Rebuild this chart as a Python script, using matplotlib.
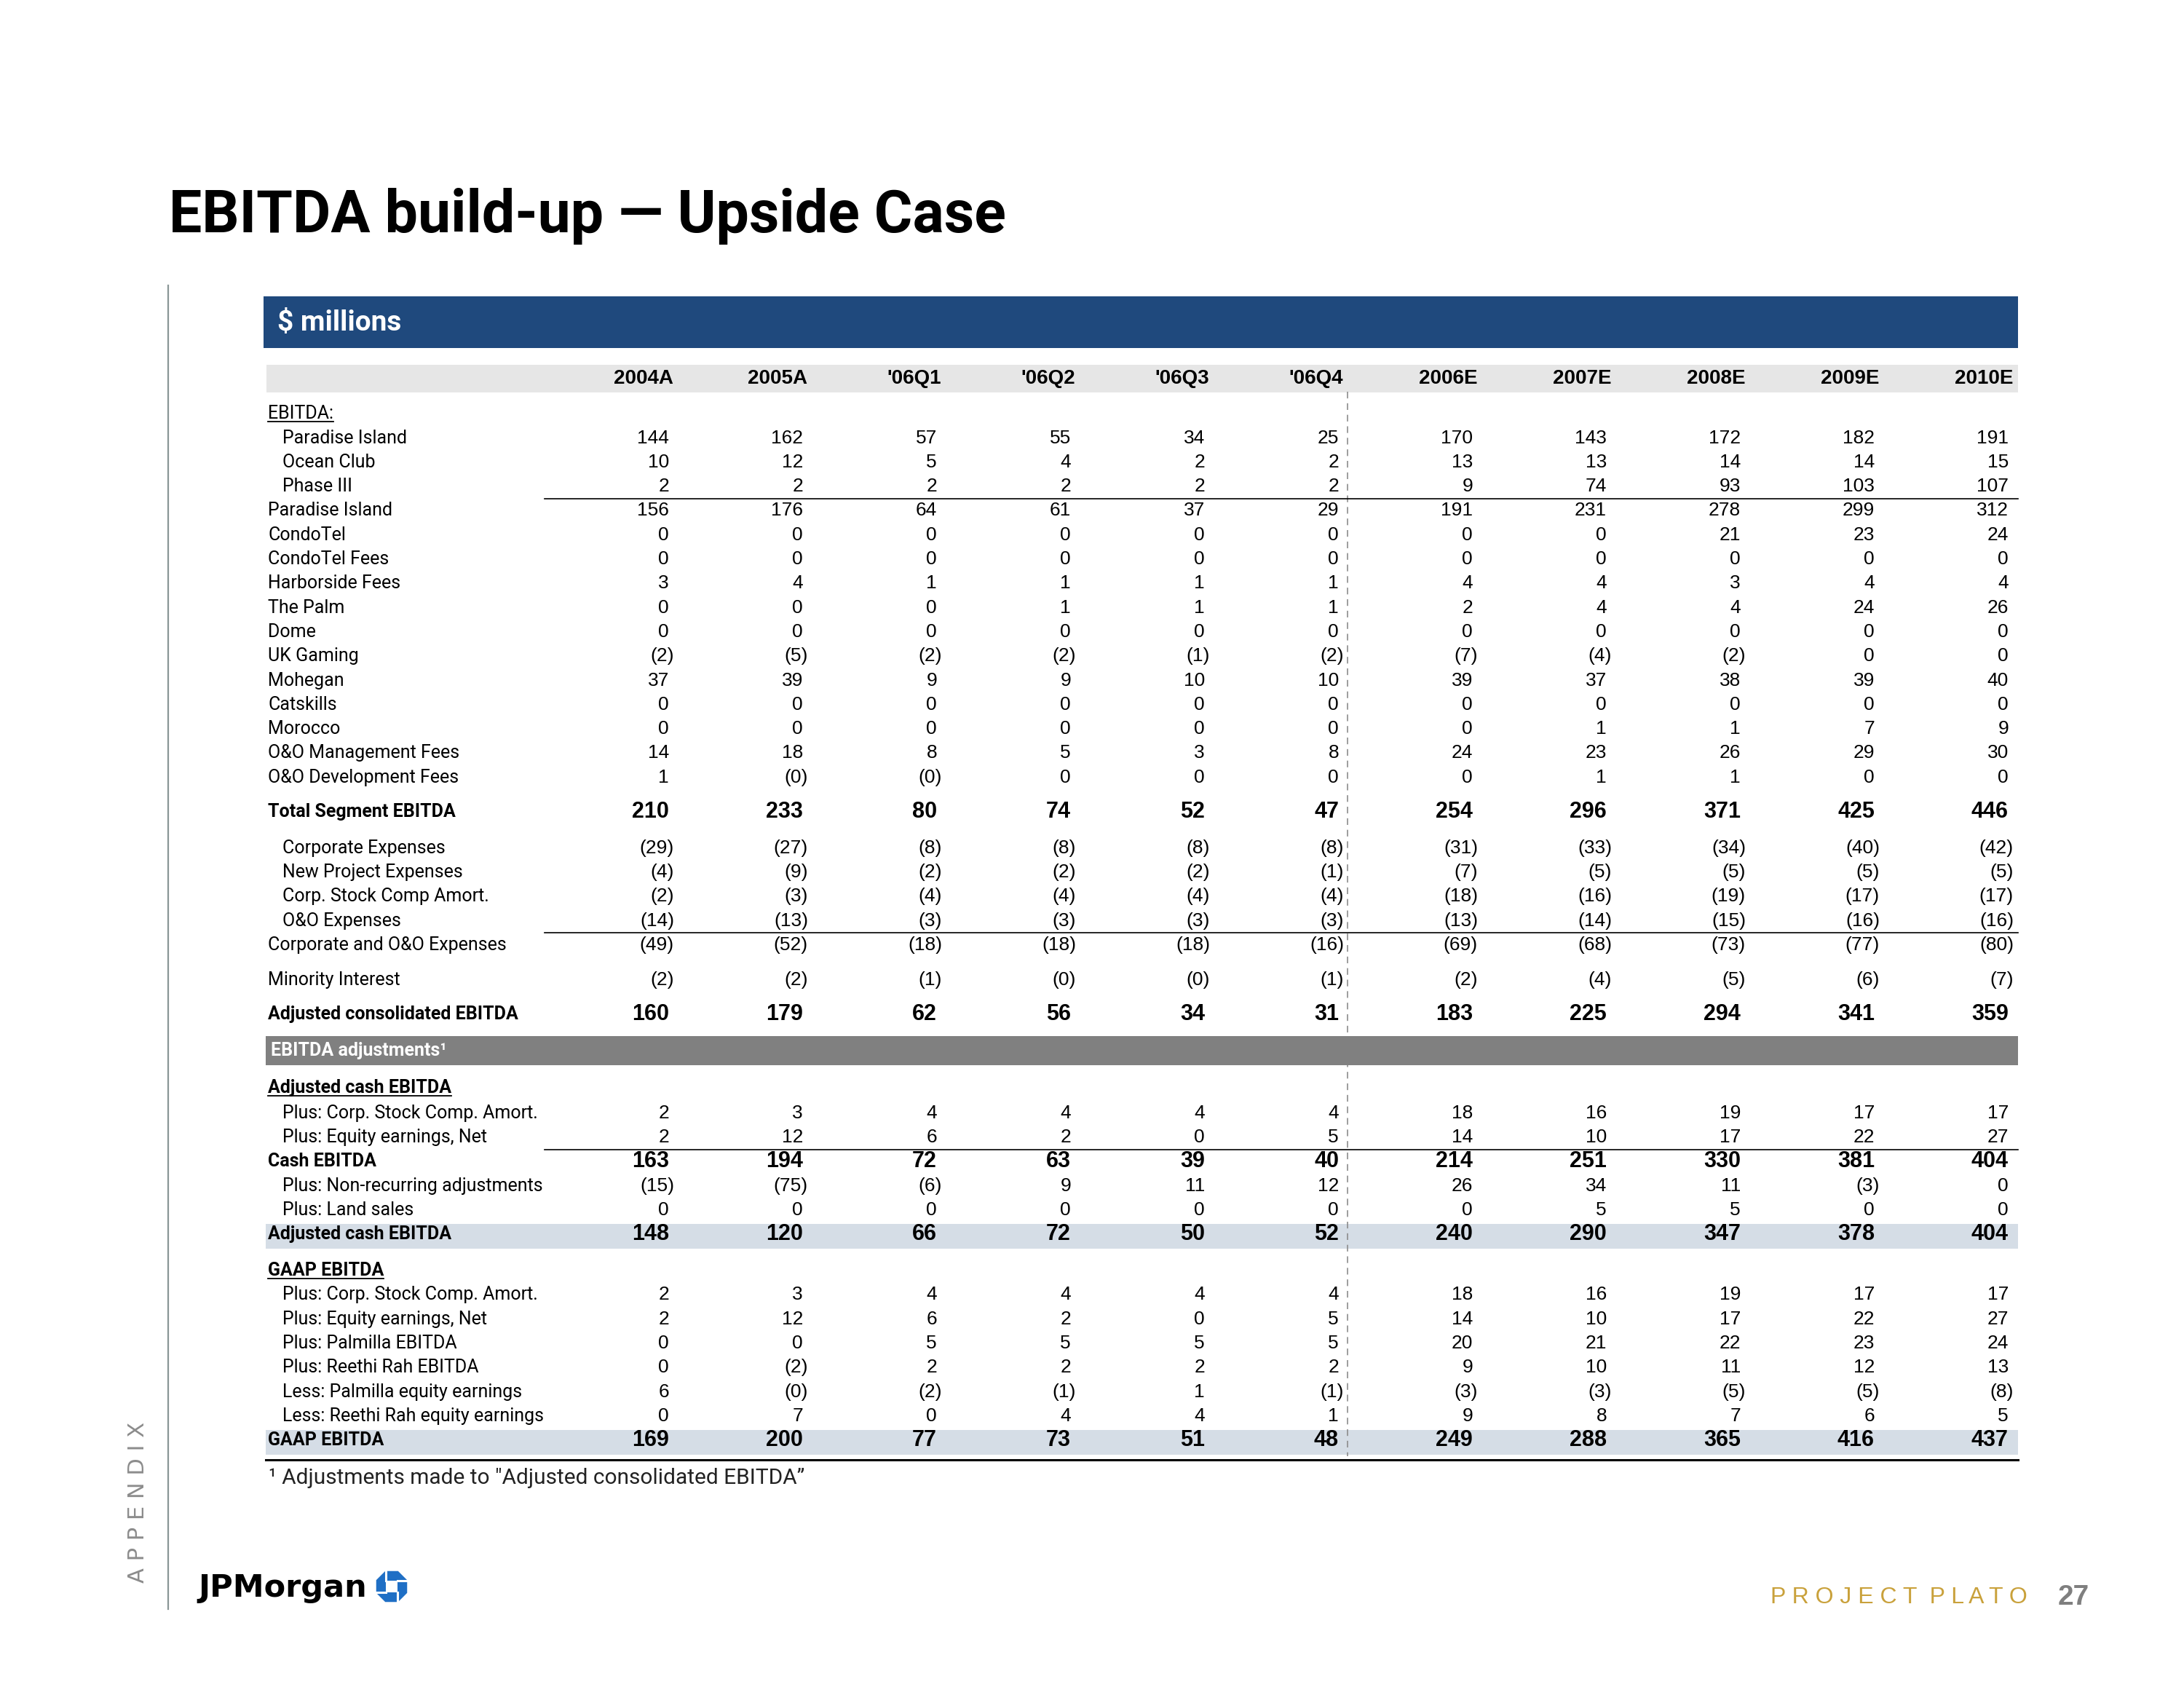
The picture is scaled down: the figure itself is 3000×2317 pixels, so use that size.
"""EBITDA build-up (Upside Case) table slide redrawn with matplotlib."""

import matplotlib.pyplot as plt
import numpy as np
from matplotlib.patches import Polygon, Rectangle

W, H = 3000, 2317

LABEL_FONT = ["Roboto", "DejaVu Sans"]
NUM_FONT = ["Liberation Sans Narrow", "Liberation Sans", "DejaVu Sans"]

columns = ["2004A", "2005A", "'06Q1", "'06Q2", "'06Q3", "'06Q4",
           "2006E", "2007E", "2008E", "2009E", "2010E"]

# EBITDA by segment ($ millions); -0.0 marks a shown "(0)"
paradise_island_sub = [144, 162, 57, 55, 34, 25, 170, 143, 172, 182, 191]
ocean_club = [10, 12, 5, 4, 2, 2, 13, 13, 14, 14, 15]
phase_iii = [2, 2, 2, 2, 2, 2, 9, 74, 93, 103, 107]
paradise_island = [156, 176, 64, 61, 37, 29, 191, 231, 278, 299, 312]
condotel = [0, 0, 0, 0, 0, 0, 0, 0, 21, 23, 24]
condotel_fees = [0, 0, 0, 0, 0, 0, 0, 0, 0, 0, 0]
harborside_fees = [3, 4, 1, 1, 1, 1, 4, 4, 3, 4, 4]
the_palm = [0, 0, 0, 1, 1, 1, 2, 4, 4, 24, 26]
dome = [0, 0, 0, 0, 0, 0, 0, 0, 0, 0, 0]
uk_gaming = [-2, -5, -2, -2, -1, -2, -7, -4, -2, 0, 0]
mohegan = [37, 39, 9, 9, 10, 10, 39, 37, 38, 39, 40]
catskills = [0, 0, 0, 0, 0, 0, 0, 0, 0, 0, 0]
morocco = [0, 0, 0, 0, 0, 0, 0, 1, 1, 7, 9]
oo_mgmt_fees = [14, 18, 8, 5, 3, 8, 24, 23, 26, 29, 30]
oo_dev_fees = [1, -0.0, -0.0, 0, 0, 0, 0, 1, 1, 0, 0]
total_segment = [210, 233, 80, 74, 52, 47, 254, 296, 371, 425, 446]

corporate_exp = [-29, -27, -8, -8, -8, -8, -31, -33, -34, -40, -42]
new_project_exp = [-4, -9, -2, -2, -2, -1, -7, -5, -5, -5, -5]
stock_comp_exp = [-2, -3, -4, -4, -4, -4, -18, -16, -19, -17, -17]
oo_exp = [-14, -13, -3, -3, -3, -3, -13, -14, -15, -16, -16]
corp_oo_exp = [-49, -52, -18, -18, -18, -16, -69, -68, -73, -77, -80]
minority = [-2, -2, -1, -0.0, -0.0, -1, -2, -4, -5, -6, -7]
adj_consolidated = [160, 179, 62, 56, 34, 31, 183, 225, 294, 341, 359]

# EBITDA adjustments
plus_stock_comp = [2, 3, 4, 4, 4, 4, 18, 16, 19, 17, 17]
plus_equity = [2, 12, 6, 2, 0, 5, 14, 10, 17, 22, 27]
cash_ebitda = [163, 194, 72, 63, 39, 40, 214, 251, 330, 381, 404]
non_recurring = [-15, -75, -6, 9, 11, 12, 26, 34, 11, -3, 0]
land_sales = [0, 0, 0, 0, 0, 0, 0, 5, 5, 0, 0]
adj_cash_ebitda = [148, 120, 66, 72, 50, 52, 240, 290, 347, 378, 404]

palmilla_ebitda = [0, 0, 5, 5, 5, 5, 20, 21, 22, 23, 24]
reethi_ebitda = [0, -2, 2, 2, 2, 2, 9, 10, 11, 12, 13]
less_palmilla_eq = [6, -0.0, -2, -1, 1, -1, -3, -3, -5, -5, -8]
less_reethi_eq = [0, 7, 0, 4, 4, 1, 9, 8, 7, 6, 5]
gaap_ebitda = [169, 200, 77, 73, 51, 48, 249, 288, 365, 416, 437]


def fmt(v):
    if np.signbit(v):
        return "(%d)" % abs(v)
    return "%d" % v


# (label, values, style, extra gap before row, rule drawn under row)
rows = [
    ("EBITDA:", None, "section", 0, False),
    ("Paradise Island", paradise_island_sub, "sub", 0, False),
    ("Ocean Club", ocean_club, "sub", 0, False),
    ("Phase III", phase_iii, "sub", 0, True),
    ("Paradise Island", paradise_island, "main", 0, False),
    ("CondoTel", condotel, "main", 0, False),
    ("CondoTel Fees", condotel_fees, "main", 0, False),
    ("Harborside Fees", harborside_fees, "main", 0, False),
    ("The Palm", the_palm, "main", 0, False),
    ("Dome", dome, "main", 0, False),
    ("UK Gaming", uk_gaming, "main", 0, False),
    ("Mohegan", mohegan, "main", 0, False),
    ("Catskills", catskills, "main", 0, False),
    ("Morocco", morocco, "main", 0, False),
    ("O&O Management Fees", oo_mgmt_fees, "main", 0, False),
    ("O&O Development Fees", oo_dev_fees, "main", 0, False),
    ("Total Segment EBITDA", total_segment, "total", 13.5, False),
    ("Corporate Expenses", corporate_exp, "sub", 17, False),
    ("New Project Expenses", new_project_exp, "sub", 0, False),
    ("Corp. Stock Comp Amort.", stock_comp_exp, "sub", 0, False),
    ("O&O Expenses", oo_exp, "sub", 0, True),
    ("Corporate and O&O Expenses", corp_oo_exp, "main", 0, False),
    ("Minority Interest", minority, "main", 14.5, False),
    ("Adjusted consolidated EBITDA", adj_consolidated, "total", 13.5, False),
    ("Adjusted cash EBITDA", None, "header_ul", 68, False),
    ("Plus: Corp. Stock Comp. Amort.", plus_stock_comp, "sub", 1.5, False),
    ("Plus: Equity earnings, Net", plus_equity, "sub", 0, True),
    ("Cash EBITDA", cash_ebitda, "total", 0, False),
    ("Plus: Non-recurring adjustments", non_recurring, "sub", 0, False),
    ("Plus: Land sales", land_sales, "sub", 0, False),
    ("Adjusted cash EBITDA", adj_cash_ebitda, "band", 0, False),
    ("GAAP EBITDA", None, "header_ul", 16.5, False),
    ("Plus: Corp. Stock Comp. Amort.", plus_stock_comp, "sub", 0, False),
    ("Plus: Equity earnings, Net", plus_equity, "sub", 0, False),
    ("Plus: Palmilla EBITDA", palmilla_ebitda, "sub", 0, False),
    ("Plus: Reethi Rah EBITDA", reethi_ebitda, "sub", 0, False),
    ("Less: Palmilla equity earnings", less_palmilla_eq, "sub", 0, False),
    ("Less: Reethi Rah equity earnings", less_reethi_eq, "sub", 0, False),
    ("GAAP EBITDA", gaap_ebitda, "band", 0, False),
]

fig = plt.figure(figsize=(W / 100, H / 100), dpi=100)
ax = fig.add_axes([0, 0, 1, 1])
ax.set_xlim(0, W)
ax.set_ylim(H, 0)
ax.axis("off")

left, right = 365, 2772
rule_left = 748
col_x = 919 + 184 * np.arange(len(columns))

# title and slide furniture
ax.text(232, 319, "EBITDA build-up \u2014 Upside Case", fontsize=58, weight="bold",
        family=LABEL_FONT, va="baseline", ha="left")
ax.plot([231, 231], [392, 2210], color="#8A9696", lw=1.6)
ax.text(190, 2063, "A P P E N D I X", rotation=90, ha="center", va="center",
        fontsize=22, color="#8C8C8C", family=["DejaVu Sans"])

ax.add_patch(Rectangle((362, 407), right - 362, 71, color="#1F497D", lw=0))
ax.text(381, 444, "$ millions", color="white", fontsize=28, weight="bold",
        family=LABEL_FONT, va="center")

ax.add_patch(Rectangle((366, 501), right - 366, 38, color="#E6E6E6", lw=0))
for x, c in zip(col_x, columns):
    ax.text(x + 6, 520, c, ha="right", va="center", fontsize=20, weight="bold",
            family=NUM_FONT)

label_clip = Rectangle((0, 0), rule_left, H, transform=ax.transData)
renderer = fig.canvas.get_renderer()
inv = ax.transData.inverted()

y = 568.3
step = 33.3
bottom_y = y
for i, (label, values, style, gap, rule) in enumerate(rows):
    if i > 0:
        y += step + gap
    bold = style in ("total", "header_ul", "band")
    lx = 388 if style == "sub" else 368
    if style == "band":
        ax.add_patch(Rectangle((left, y - 14), right - left, 34,
                               color="#D5DDE6", lw=0, zorder=1))
    t = ax.text(lx, y, label, fontsize=18, weight="bold" if bold else "normal",
                family=LABEL_FONT, va="center", ha="left", zorder=4)
    t.set_clip_path(label_clip)
    if style in ("section", "header_ul"):
        bb = t.get_window_extent(renderer)
        x0 = inv.transform((bb.x0, bb.y0))[0]
        x1 = inv.transform((bb.x1, bb.y0))[0]
        ax.plot([x0, x1], [y + 11, y + 11], color="black", lw=1.3, zorder=4)
    if values is not None:
        for x, v in zip(col_x, values):
            s = fmt(v)
            ax.text(x + (7 if s.startswith("(") else 0), y, s, ha="right",
                    va="center", fontsize=22 if bold else 19,
                    weight="bold" if bold else "normal", family=NUM_FONT, zorder=4)
    if rule:
        ry = y + step / 2
        ax.plot([rule_left, right], [ry, ry], color="black", lw=1.2, zorder=4)
    if label == "Adjusted consolidated EBITDA":
        # grey section bar
        ax.add_patch(Rectangle((left, 1423), right - left, 40, color="#808080",
                               lw=0, zorder=3))
        ax.text(372, 1443, "EBITDA adjustments\u00b9", color="white", fontsize=18,
                weight="bold", family=LABEL_FONT, va="center", zorder=4)
    bottom_y = y

# dashed divider between quarters and annual estimates
ax.plot([1851, 1851], [538, bottom_y + 22], color="#8C8C8C", lw=1.2,
        dashes=(5.5, 4), zorder=2)
ax.plot([left, right], [2005, 2005], color="black", lw=2.2, zorder=4)

ax.text(369, 2030, "\u00b9 Adjustments made to \"Adjusted consolidated EBITDA\u201d",
        fontsize=21.5, family=LABEL_FONT, va="center", ha="left", color="#222222")

# footer: logo and project name
ax.text(272, 2193, "JPMorgan", fontsize=31, weight="bold", family=["DejaVu Sans"],
        va="baseline", ha="left")
cx, cy, r = 538, 2179, 23
ang = np.deg2rad(22.5 + 45 * np.arange(8))
ax.add_patch(Polygon(np.c_[cx + r * np.cos(ang), cy + r * np.sin(ang)],
                     closed=True, color="#1F6FC5", lw=0))
s = r * 0.36
ax.add_patch(Rectangle((cx - s, cy - s), 2 * s, 2 * s, color="white", lw=0))
for (x0, y0), (x1, y1) in [((cx + s, cy + s), (cx + s, cy + r)),
                           ((cx - s, cy + s), (cx - r, cy + s)),
                           ((cx - s, cy - s), (cx - s, cy - r)),
                           ((cx + s, cy - s), (cx + r, cy - s))]:
    ax.plot([x0, x1], [y0, y1], color="white", lw=2.2)

ax.text(2432, 2194, "P R O J E C T  P L A T O", fontsize=23, color="#C9A13B",
        family=NUM_FONT, va="center", ha="left")
ax.text(2870, 2194, "27", fontsize=28, weight="bold", color="#7F7F7F",
        family=["Liberation Sans", "DejaVu Sans"], va="center", ha="right")

fig.savefig("out.png", dpi=100)
